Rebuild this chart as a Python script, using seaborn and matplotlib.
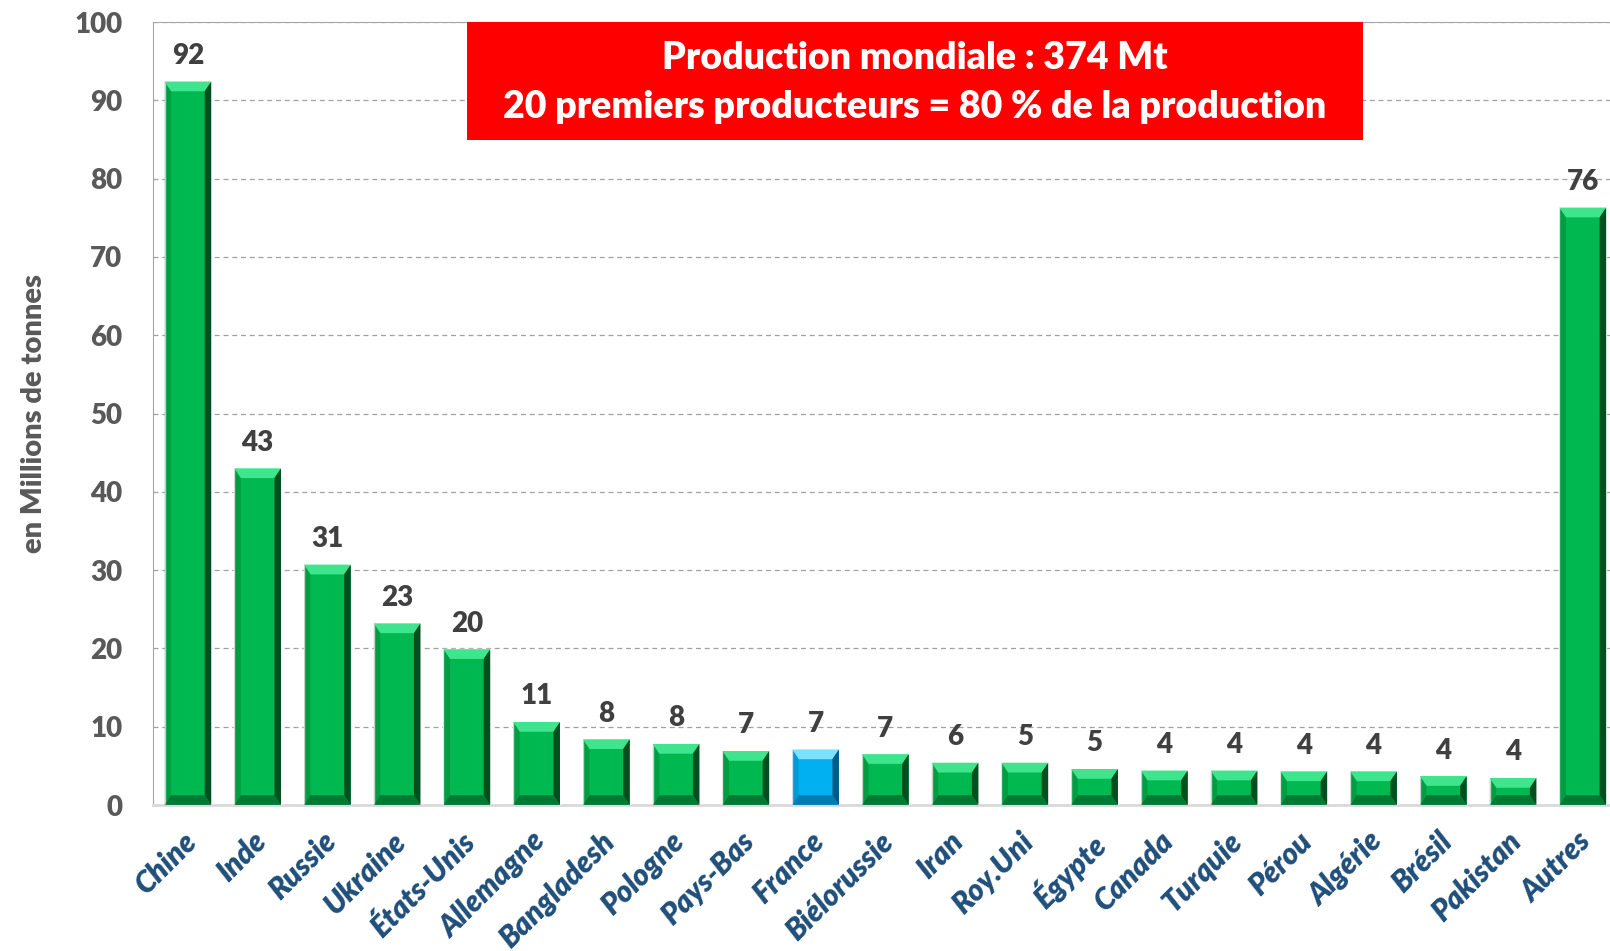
import numpy as np
import pandas as pd
import seaborn as sns
import matplotlib.pyplot as plt
import matplotlib.transforms as mtransforms
from matplotlib.patches import Rectangle, Polygon

# donnees (millions de tonnes)
pays = ['Chine', 'Inde', 'Russie', 'Ukraine', 'États-Unis', 'Allemagne', 'Bangladesh',
        'Pologne', 'Pays-Bas', 'France', 'Biélorussie', 'Iran', 'Roy.Uni', 'Égypte',
        'Canada', 'Turquie', 'Pérou', 'Algérie', 'Brésil', 'Pakistan', 'Autres']
production = [92.4, 43.0, 30.7, 23.2, 19.9, 10.6, 8.4, 7.8, 6.9, 7.1, 6.5,
              5.4, 5.4, 4.6, 4.4, 4.4, 4.3, 4.3, 3.7, 3.45, 76.3]
etiquettes = ['92', '43', '31', '23', '20', '11', '8', '8', '7', '7', '7',
              '6', '5', '5', '4', '4', '4', '4', '4', '4', '76']
titre = ["Production mondiale : 374 Mt", "20 premiers producteurs = 80 % de la production"]

df = pd.DataFrame({'pays': pays, 'production': production})
couleurs = {p: ('#00B0F0' if p == 'France' else '#00B850') for p in pays}

sns.set_style("white")
plt.rcParams['font.family'] = ['Lato', 'DejaVu Sans']

fig = plt.figure(figsize=(16.1, 9.51), dpi=100)
ax = fig.add_axes([153 / 1610, 146 / 951, 1457 / 1610, 783 / 951])

sns.barplot(data=df, x='pays', y='production', hue='pays', palette=couleurs,
            saturation=1, width=0.67, legend=False, ax=ax, zorder=3)

# effet biseau sur chaque barre
for patch in ax.patches[:len(pays)]:
    x0, y0 = patch.get_x(), patch.get_y()
    w, h = patch.get_width(), patch.get_height()
    bleu = patch.get_facecolor()[2] > 0.5
    fonce = '#005A8A' if bleu else '#00501F'
    clair = '#3FE58C' if not bleu else '#7FE0FF'
    bx, by = w * 0.14, 1.25
    x1, y1 = x0 + w, y0 + h
    ax.add_patch(Polygon([(x0, y1), (x1, y1), (x1 - bx, y1 - by), (x0 + bx, y1 - by)],
                         closed=True, color=clair, lw=0, zorder=4))
    ax.add_patch(Polygon([(x1, y1), (x1, y0), (x1 - bx, y0 + by), (x1 - bx, y1 - by)],
                         closed=True, color=fonce, lw=0, zorder=4))
    ax.add_patch(Polygon([(x0, y0), (x1, y0), (x1 - bx, y0 + by), (x0 + bx, y0 + by)],
                         closed=True, color=fonce, alpha=0.6, lw=0, zorder=4))
    ax.add_patch(Polygon([(x0, y1), (x0, y0), (x0 + bx, y0 + by), (x0 + bx, y1 - by)],
                         closed=True, color=fonce, alpha=0.25, lw=0, zorder=4))

for i, (v, t) in enumerate(zip(production, etiquettes)):
    ax.text(i, v + 1.6, t, ha='center', va='bottom', fontsize=20, fontweight='heavy',
            color='#404040', zorder=5)

ax.set_ylim(0, 100)
ax.set_xlim(-0.5, 20.39)
ax.set_yticks(range(0, 101, 10))
ax.yaxis.grid(True, linestyle=(0, (4, 3)), color='#A0A0A0', linewidth=0.9, zorder=0)
ax.set_axisbelow(True)

ax.set_xlabel('')
ax.set_ylabel('en Millions de tonnes', fontsize=21, fontweight='heavy', color='#595959', labelpad=20)
ax.tick_params(axis='y', labelsize=20, labelcolor='#595959', length=0, pad=22)
ax.tick_params(axis='x', length=0, pad=16)
for lab in ax.get_yticklabels():
    lab.set_fontweight('heavy')
ax.set_xticks(range(len(pays)))
ax.set_xticklabels(pays, rotation=45, ha='right', rotation_mode='anchor', fontsize=21.5,
                   fontweight='heavy', fontstyle='italic', color='#1F4E79')
decalage = mtransforms.ScaledTranslation(-6 / 100, 0, fig.dpi_scale_trans)
for lab in ax.get_xticklabels():
    lab.set_transform(lab.get_transform() + decalage)

for s in ['left', 'top']:
    ax.spines[s].set_color('#A6A6A6')
ax.spines['bottom'].set_color('#D9D9D9')
ax.spines['bottom'].set_linewidth(2)
ax.spines['right'].set_visible(False)

# encadre rouge
fig.add_artist(Rectangle((467 / 1610, 1 - 140 / 951), 896 / 1610, 118 / 951,
                         transform=fig.transFigure, facecolor='#FF0000', edgecolor='none', zorder=6))
fig.text(915 / 1610, 1 - 58 / 951, titre[0], ha='center', va='center', fontsize=27,
         fontweight='heavy', color='white', zorder=7)
fig.text(915 / 1610, 1 - 107 / 951, titre[1], ha='center', va='center', fontsize=27,
         fontweight='heavy', color='white', zorder=7)

fig.savefig('out.png', dpi=100)
